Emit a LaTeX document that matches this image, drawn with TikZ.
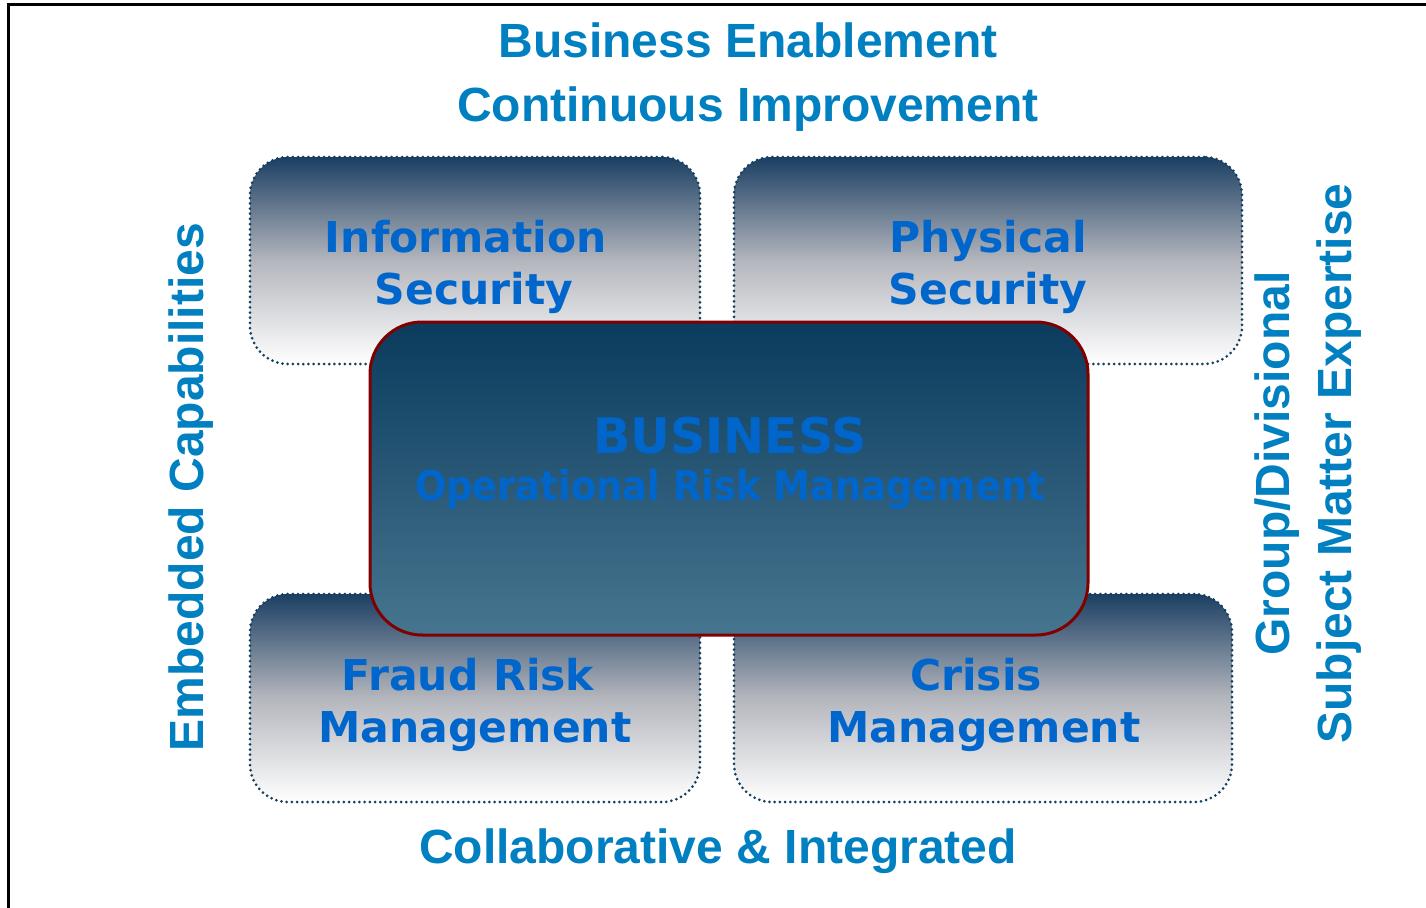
\documentclass[tikz,border=0pt]{standalone}
\usepackage{fontspec}
\setmainfont{Liberation Sans}
\newfontfamily\boxfont{DejaVu Sans}
\newfontfamily\condfont{DejaVu Sans Condensed}
\definecolor{outerblue}{HTML}{0080C0}
\definecolor{boxblue}{HTML}{0066CC}
\definecolor{navy}{HTML}{1B3F63}
\definecolor{midgrey}{HTML}{B4B6BD}
\definecolor{dotcol}{HTML}{163F5E}
\definecolor{ctop}{HTML}{0B3B5D}
\definecolor{cbot}{HTML}{46768F}
\definecolor{cborder}{HTML}{800000}
\begin{document}
\begin{tikzpicture}[x=1pt,y=-1pt,
  areabox/.style={draw=dotcol, line width=3pt, line cap=round, dash pattern=on 0pt off 5.2pt,
    rounded corners=38pt, top color=navy, bottom color=white, middle color=midgrey,
    inner sep=0pt, outer sep=0pt},
  corebox/.style={draw=cborder, line width=3pt, rounded corners=52pt,
    top color=ctop, bottom color=cbot, inner sep=0pt, outer sep=0pt},
  outertext/.style={text=outerblue, font=\bfseries\fontsize{48}{58}\selectfont, inner sep=0pt, anchor=base},
  boxtext/.style={text=boxblue, font=\boxfont\bfseries\fontsize{42.5}{52}\selectfont, inner sep=0pt, anchor=base},
  coretext/.style={text=boxblue, inner sep=0pt, anchor=base}]
\useasboundingbox (0,0) rectangle (1426,907);
\clip (0,0) rectangle (1426,907);
% frame
\draw[line width=2.5pt] (8.5,1000) |- (1500,4.5);
% area boxes
\node[areabox, minimum width=450pt, minimum height=207pt] (info) at (475,260.5) {};
\node[areabox, minimum width=508pt, minimum height=207pt] (phys) at (988,260.5) {};
\node[areabox, minimum width=450pt, minimum height=208pt] (fraud) at (475,698) {};
\node[areabox, minimum width=498pt, minimum height=208pt] (crisis) at (983,698) {};
% core box
\node[corebox, minimum width=718pt, minimum height=313pt] (core) at (729,478.5) {};
% box texts
\node[boxtext] (info1) at (466,252) {Information};
\node[boxtext] (info2) at (474,304) {Security};
\node[boxtext] (phys1) at (988,252) {Physical};
\node[boxtext] (phys2) at (988,304) {Security};
\node[boxtext] (fraud1) at (468,690) {Fraud Risk};
\node[boxtext] (fraud2) at (475,742) {Management};
\node[boxtext] (crisis1) at (976,690) {Crisis};
\node[boxtext] (crisis2) at (984,742) {Management};
\node[coretext, font=\boxfont\bfseries\fontsize{49}{56}\selectfont] (biz) at (730,453) {BUSINESS};
\node[coretext, font=\condfont\bfseries\fontsize{41}{50}\selectfont] (orm) at (730,500) {Operational Risk Management};
% outer texts
\node[outertext] (be) at (748,57) {Business Enablement};
\node[outertext] (ci) at (748,121) {Continuous Improvement};
\node[outertext] (ci2) at (718,863) {Collaborative \& Integrated};
\node[outertext, rotate=90] (ec) at (203,487) {Embedded Capabilities};
\node[outertext, rotate=90] (gd) at (1289,463.5) {Group/Divisional};
\node[outertext, rotate=90] (sme) at (1351,463.5) {Subject Matter Expertise};
\end{tikzpicture}
\end{document}
